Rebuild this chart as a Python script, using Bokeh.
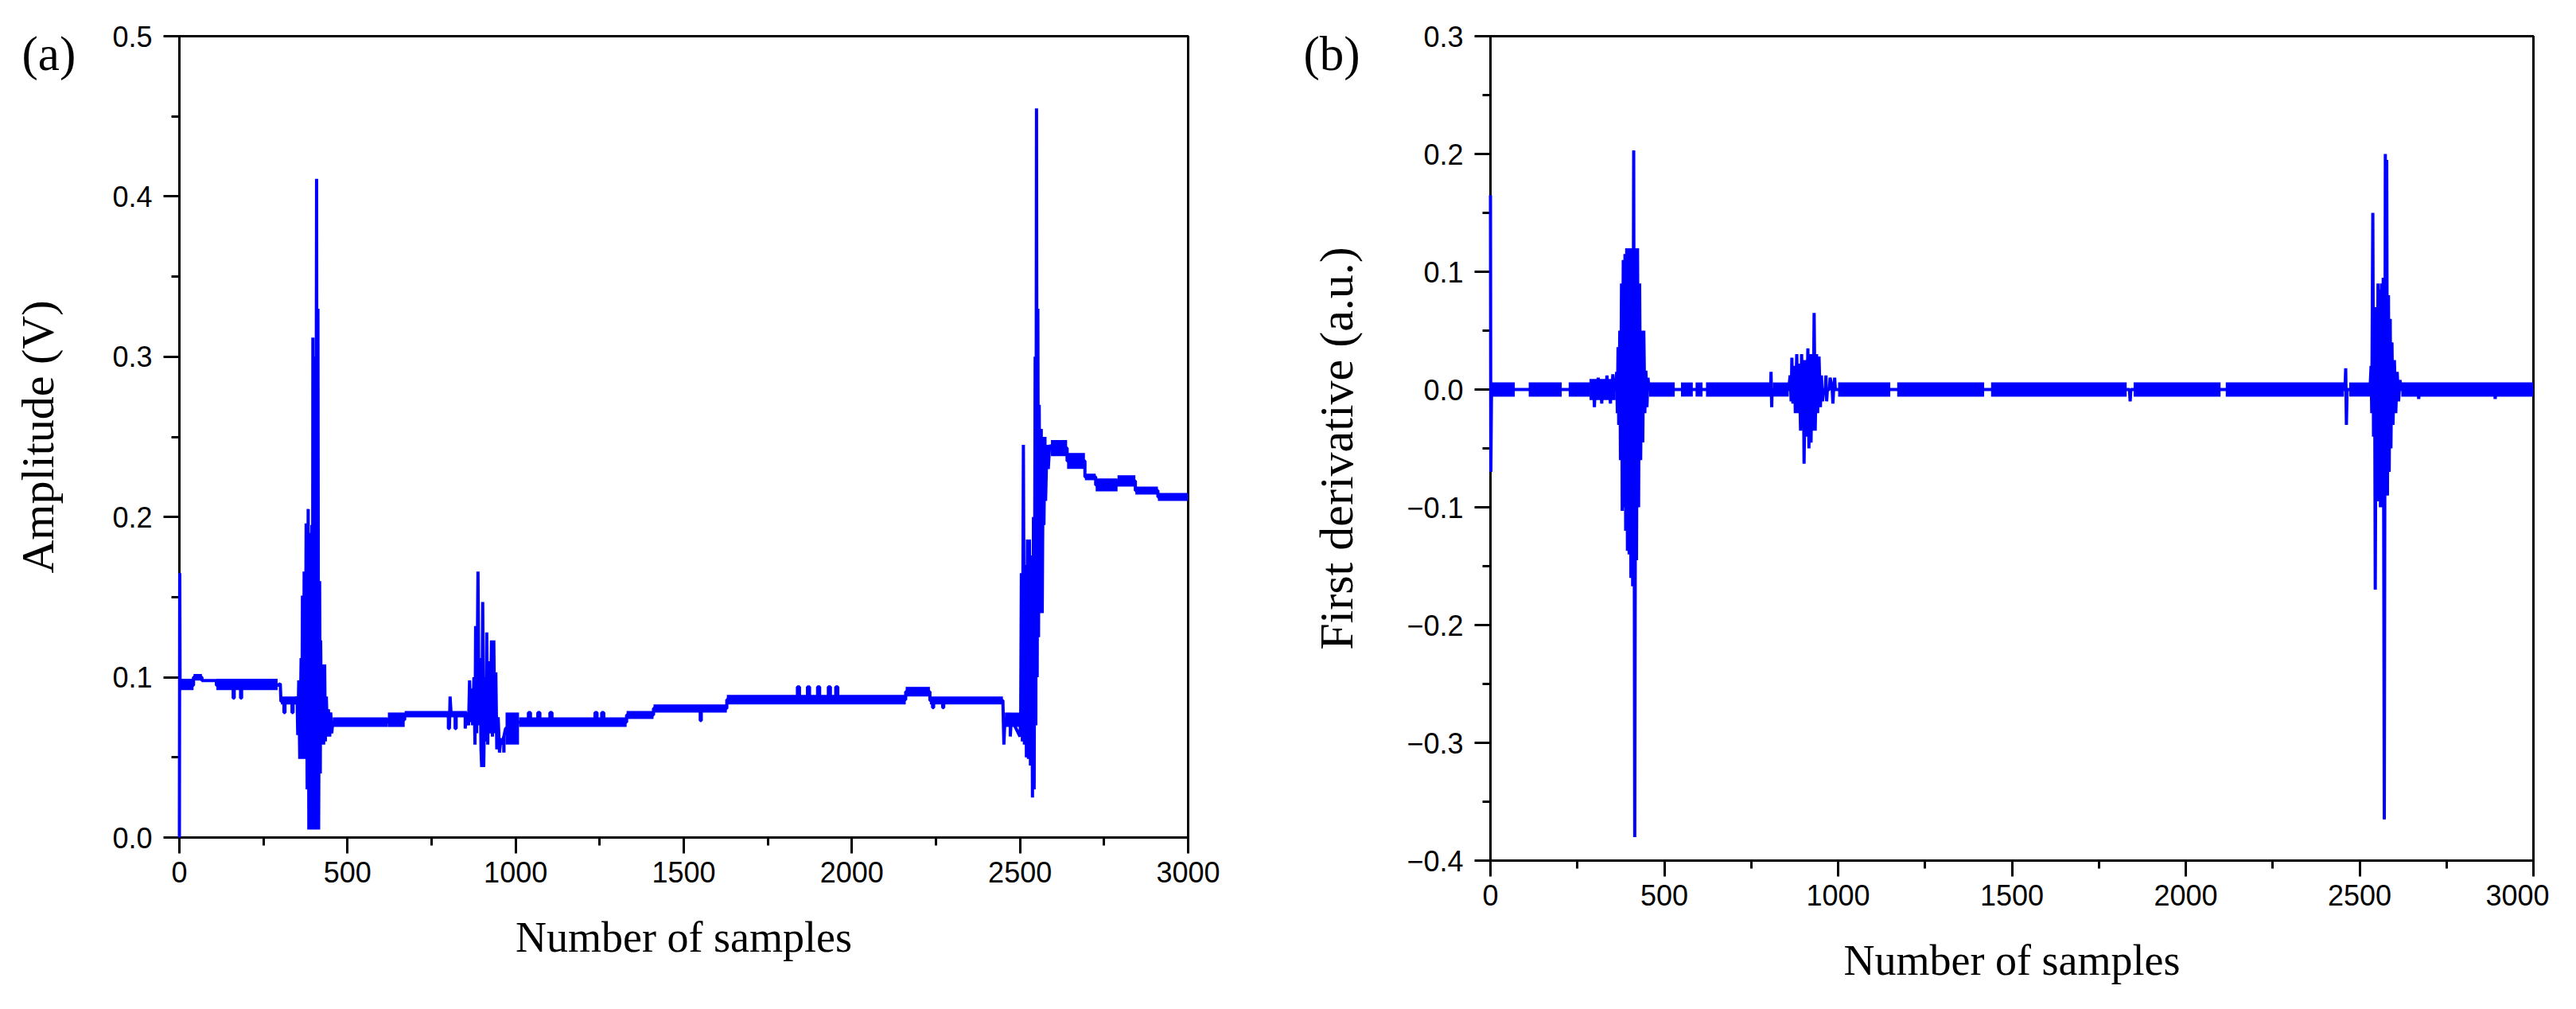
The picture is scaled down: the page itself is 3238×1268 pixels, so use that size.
from bokeh.plotting import figure
from bokeh.layouts import row
from bokeh.models import Range1d, FixedTicker, CustomJSTickFormatter, Label
from bokeh.embed import file_html
from bokeh.resources import INLINE

# ---------------- data: panel (a) amplitude ----------------
a_x = [0, 1, 2, 42, 42, 67, 67, 110, 110, 160, 160, 163, 163, 182, 182, 185, 185, 292, 300, 302, 311, 311, 314, 314, 335, 335, 338, 338, 348,
       350, 352, 355, 358, 362, 364, 366, 369, 371, 374, 377, 380, 383, 385, 388, 391, 394, 396, 397, 399,
       402, 405, 408, 410, 412, 414, 417, 419, 420, 423, 426, 429, 432, 434, 437, 440, 443, 447, 450, 453, 456,
       620, 620, 670, 670, 800, 800, 803, 805, 808, 820, 820, 823, 823, 850, 850, 853,
       855, 860, 863, 866, 869, 872, 876, 879, 881, 884, 888, 891, 894, 897, 899, 902, 905, 909, 912, 914,
       917, 921, 925, 928, 931, 935, 938, 941, 944, 948, 952, 956, 960,
       970, 1010, 1038, 1038, 1044, 1044, 1066, 1066, 1072, 1072, 1102, 1102, 1108, 1108, 1236, 1236, 1242, 1242,
       1256, 1256, 1262, 1262, 1330, 1330, 1410, 1410, 1549, 1549, 1552, 1552, 1628, 1628,
       1838, 1838, 1844, 1844, 1868, 1868, 1874, 1874, 1898, 1898, 1904, 1904, 1930, 1930, 1936, 1936, 1952, 1952, 1958, 1958,
       2160, 2160, 2232, 2232, 2240, 2240, 2243, 2243, 2270, 2270, 2273, 2273, 2449, 2452, 2455, 2471, 2471, 2474, 2500, 2502,
       2504, 2507, 2510, 2513, 2516, 2519, 2522, 2525, 2528, 2531, 2534, 2537, 2540, 2542, 2545, 2547, 2549, 2551, 2553, 2555,
       2557, 2560, 2563, 2566, 2569, 2571, 2574, 2576, 2580, 2584, 2588, 2592,
       2640, 2640, 2693, 2693, 2725, 2725, 2790, 2790, 2843, 2843, 2910, 2910, 3000]
a_y = [0.0, 0.165, 0.095, 0.095, 0.1, 0.1, 0.098, 0.098, 0.095, 0.095, 0.087, 0.087, 0.095, 0.095, 0.087, 0.087, 0.095, 0.095, 0.096, 0.085, 0.085, 0.078, 0.078, 0.085, 0.085, 0.078, 0.078, 0.085, 0.085,
       0.088, 0.064, 0.098, 0.049, 0.112, 0.049, 0.151, 0.049, 0.166, 0.049, 0.196, 0.030, 0.205, 0.005, 0.190, 0.005, 0.195, 0.050, 0.312, 0.005,
       0.300, 0.005, 0.411, 0.005, 0.330, 0.005, 0.160, 0.040, 0.123, 0.058, 0.108, 0.058, 0.108, 0.060, 0.088, 0.063, 0.080, 0.063, 0.078, 0.065, 0.072,
       0.072, 0.0735, 0.0735, 0.077, 0.077, 0.068, 0.068, 0.088, 0.077, 0.077, 0.068, 0.068, 0.077, 0.077, 0.068, 0.077,
       0.078, 0.070, 0.098, 0.072, 0.093, 0.070, 0.100, 0.058, 0.132, 0.065, 0.166, 0.070, 0.112, 0.055, 0.044, 0.147, 0.044, 0.100, 0.060, 0.128,
       0.058, 0.110, 0.065, 0.123, 0.063, 0.123, 0.065, 0.103, 0.055, 0.075, 0.053, 0.062, 0.058,
       0.068, 0.072, 0.072, 0.078, 0.078, 0.072, 0.072, 0.078, 0.078, 0.072, 0.072, 0.078, 0.078, 0.072, 0.072, 0.078, 0.078, 0.072,
       0.072, 0.078, 0.078, 0.072, 0.072, 0.0765, 0.0765, 0.0805, 0.0805, 0.073, 0.073, 0.0805, 0.0805, 0.086,
       0.086, 0.094, 0.094, 0.086, 0.086, 0.094, 0.094, 0.086, 0.086, 0.094, 0.094, 0.086, 0.086, 0.094, 0.094, 0.086, 0.086, 0.094, 0.094, 0.086,
       0.086, 0.091, 0.091, 0.0855, 0.0855, 0.081, 0.081, 0.0855, 0.0855, 0.081, 0.081, 0.0855, 0.0855, 0.058, 0.074, 0.074, 0.063, 0.074, 0.063, 0.075,
       0.165, 0.060, 0.245, 0.058, 0.170, 0.050, 0.186, 0.049, 0.186, 0.045, 0.176, 0.025, 0.200, 0.030, 0.300, 0.070, 0.455, 0.100, 0.330, 0.125,
       0.270, 0.140, 0.255, 0.140, 0.250, 0.195, 0.250, 0.210, 0.245, 0.230, 0.245, 0.243,
       0.243, 0.235, 0.235, 0.225, 0.225, 0.220, 0.220, 0.2225, 0.2225, 0.2165, 0.2165, 0.2125, 0.2125]

# flicker bands of panel (a): sample range and value range
a_band_start = [2, 42, 110, 302, 456, 620, 670, 960, 970, 1010, 1330, 1410, 1628, 2160, 2232, 2455, 2592, 2640, 2693, 2725, 2790, 2843, 2910]
a_band_end = [42, 67, 292, 348, 620, 670, 855, 970, 1010, 1330, 1410, 1628, 2160, 2232, 2449, 2500, 2640, 2693, 2725, 2790, 2843, 2910, 3000]
a_band_lo = [0.092, 0.098, 0.092, 0.083, 0.069, 0.069, 0.075, 0.053, 0.058, 0.069, 0.074, 0.078, 0.083, 0.088, 0.083, 0.069, 0.238, 0.230, 0.223, 0.216, 0.219, 0.214, 0.210]
a_band_hi = [0.099, 0.102, 0.099, 0.088, 0.075, 0.078, 0.079, 0.063, 0.078, 0.075, 0.079, 0.083, 0.089, 0.094, 0.088, 0.078, 0.248, 0.240, 0.227, 0.224, 0.226, 0.219, 0.215]

# ---------------- data: panel (b) first derivative ----------------
b_x = [0, 1, 3, 297, 299, 301, 308, 310, 312, 318, 320, 322, 333, 335, 337, 343, 345, 347, 350, 352, 354, 360,
       363, 365, 367, 369, 372, 374, 377, 379, 382, 384, 387, 389, 392, 394, 397, 399, 402, 404, 407, 409,
       412, 415, 418, 420, 423, 426, 429, 432, 435, 438, 441, 444, 447, 450, 453, 456,
       806, 807, 809, 810, 858,
       862, 865, 867, 870, 874, 877, 881, 884, 888, 892, 895, 898, 900, 902, 906, 909, 913, 916, 919, 922,
       926, 928, 931, 934, 938, 941, 945, 949, 952, 955, 959,
       963, 965, 967, 969, 975, 977, 983, 985, 987, 990, 992, 1000,
       1838, 1840, 1842, 2458, 2460, 2462, 2464, 2530,
       2533, 2535, 2538, 2540, 2543, 2545, 2548, 2550, 2553, 2555, 2558, 2560, 2563, 2565, 2568, 2571, 2574, 2576, 2578, 2580,
       2583, 2585, 2588, 2590, 2593, 2596, 2600, 2604, 2608, 2612, 2616, 2620,
       2668, 2670, 2672, 2888, 2890, 2892, 3000]
b_y = [0.165, -0.070, 0.0, 0.0, -0.015, 0.0, 0.0, 0.010, 0.0, 0.0, -0.012, 0.0, 0.0, 0.012, 0.0, 0.0, -0.012, 0.0, 0.0, 0.013, 0.0, 0.0,
       0.015, -0.020, 0.036, -0.030, 0.050, -0.060, 0.090, -0.103, 0.110, -0.100, 0.115, -0.120, 0.120, -0.137, 0.120, -0.140, 0.120, -0.160, 0.120, -0.167,
       0.203, -0.380, 0.120, -0.145, 0.120, -0.100, 0.090, -0.060, 0.050, -0.045, 0.050, -0.020, 0.016, -0.015, 0.010, 0.0,
       0.0, 0.015, -0.015, 0.0, 0.0,
       0.012, -0.010, 0.027, -0.012, 0.020, -0.020, 0.030, -0.020, 0.022, -0.035, 0.030, -0.030, 0.025, -0.063, 0.025, -0.040, 0.035, -0.050, 0.030, -0.045,
       0.030, -0.035, 0.065, -0.035, 0.030, -0.020, 0.028, -0.015, 0.012, -0.010, 0.0,
       0.0, 0.012, -0.010, 0.0, 0.0, 0.010, 0.0, -0.012, 0.0, 0.010, 0.0, 0.0,
       0.0, -0.010, 0.0, 0.0, 0.018, -0.030, 0.0, 0.0,
       0.020, -0.020, 0.150, -0.040, 0.060, -0.170, 0.070, -0.090, 0.090, -0.095, 0.085, -0.100, 0.090, -0.100, 0.095, -0.365, 0.200, -0.090, 0.195, -0.090,
       0.080, -0.070, 0.060, -0.050, 0.040, -0.030, 0.025, -0.020, 0.015, -0.010, 0.008, 0.0,
       0.0, -0.008, 0.0, 0.0, -0.008, 0.0, 0.0]

b_band_start = [3, 110, 225, 285, 456, 548, 590, 620, 812, 1000, 1170, 1440, 1850, 2115, 2470, 2620]
b_band_end = [70, 205, 285, 360, 530, 582, 610, 805, 858, 1150, 1420, 1830, 2100, 2455, 2530, 3000]
b_band_lo = [-0.006, -0.006, -0.006, -0.009, -0.006, -0.006, -0.006, -0.006, -0.006, -0.006, -0.006, -0.006, -0.006, -0.006, -0.006, -0.006]
b_band_hi = [0.006, 0.006, 0.006, 0.009, 0.006, 0.006, 0.006, 0.006, 0.006, 0.006, 0.006, 0.006, 0.006, 0.006, 0.006, 0.006]

x_major = [0, 500, 1000, 1500, 2000, 2500, 3000]
x_minor = [250, 750, 1250, 1750, 2250, 2750]
a_major = [0.0, 0.1, 0.2, 0.3, 0.4, 0.5]
a_minor = [0.05, 0.15, 0.25, 0.35, 0.45]
b_major = [-0.4, -0.3, -0.2, -0.1, 0.0, 0.1, 0.2, 0.3]
b_minor = [-0.35, -0.25, -0.15, -0.05, 0.05, 0.15, 0.25]

BLUE = "#0000FF"
SANS = "Liberation Sans"
SERIF = "Liberation Serif"

yfmt_code = "return (tick < -1e-9 ? '\u2212' : '') + Math.abs(tick).toFixed(1);"


def make_fig(fw, fh, ylo, yhi, ymaj, ymin, ylabel, ytitle_size, ytitle_standoff,
             mb_left, mb_top, mb_right, mb_bottom):
    p = figure(output_backend="svg", toolbar_location=None,
               frame_width=fw, frame_height=fh,
               x_range=Range1d(0, 3000), y_range=Range1d(ylo, yhi),
               min_border_left=mb_left, min_border_top=mb_top,
               min_border_right=mb_right, min_border_bottom=mb_bottom)
    p.grid.visible = False
    p.background_fill_color = "white"
    p.border_fill_color = "white"
    p.outline_line_color = "black"
    p.outline_line_width = 3
    p.xaxis.ticker = FixedTicker(ticks=x_major, minor_ticks=x_minor)
    p.yaxis.ticker = FixedTicker(ticks=ymaj, minor_ticks=ymin)
    p.yaxis.formatter = CustomJSTickFormatter(code=yfmt_code)
    for ax in (p.xaxis[0], p.yaxis[0]):
        ax.axis_line_width = 3
        ax.axis_line_color = "black"
        ax.major_tick_line_width = 3
        ax.minor_tick_line_width = 3
        ax.major_tick_line_color = "black"
        ax.minor_tick_line_color = "black"
        ax.major_tick_out = 20
        ax.major_tick_in = 0
        ax.minor_tick_out = 10
        ax.minor_tick_in = 0
        ax.major_label_text_font = SANS
        ax.major_label_text_font_size = "36px"
        ax.major_label_text_color = "black"
        ax.axis_label_text_font = SERIF
        ax.axis_label_text_font_style = "normal"
        ax.axis_label_text_color = "black"
    p.xaxis.axis_label = "Number of samples"
    p.xaxis.axis_label_text_font_size = "54px"
    p.xaxis.major_label_standoff = 10
    p.xaxis.axis_label_standoff = 36
    p.yaxis.axis_label = ylabel
    p.yaxis.axis_label_text_font_size = ytitle_size
    p.yaxis.major_label_standoff = 14
    p.yaxis.axis_label_standoff = ytitle_standoff
    return p


pa = make_fig(1268, 1007, 0.0, 0.5, a_major, a_minor, "Amplitude (V)", "58px", 58, 225, 38, 80, 200)
pa.quad(left=a_band_start, right=a_band_end, bottom=a_band_lo, top=a_band_hi,
        fill_color=BLUE, line_color=None)
pa.line(a_x, a_y, line_color=BLUE, line_width=4, level="overlay")
# panel letter: kept in a side panel so it is not clipped to the plot frame
pa.add_layout(Label(x=27, y=33, x_units="canvas", y_units="canvas", text="(a)",
                    text_font=SERIF, text_font_size="61px",
                    text_color="black", text_baseline="top", text_align="left"), "right")

pb = make_fig(1311, 1036, -0.4, 0.3, b_major, b_minor, "First derivative (a.u.)", "60px", 52, 289, 45, 20, 168)
pb.quad(left=b_band_start, right=b_band_end, bottom=b_band_lo, top=b_band_hi,
        fill_color=BLUE, line_color=None)
pb.line(b_x, b_y, line_color=BLUE, line_width=4, level="overlay")
pb.add_layout(Label(x=65, y=33, x_units="canvas", y_units="canvas", text="(b)",
                    text_font=SERIF, text_font_size="61px",
                    text_color="black", text_baseline="top", text_align="left"), "left")

layout = row(pa, pb)
open("out.html", "w").write(file_html(layout, INLINE))
